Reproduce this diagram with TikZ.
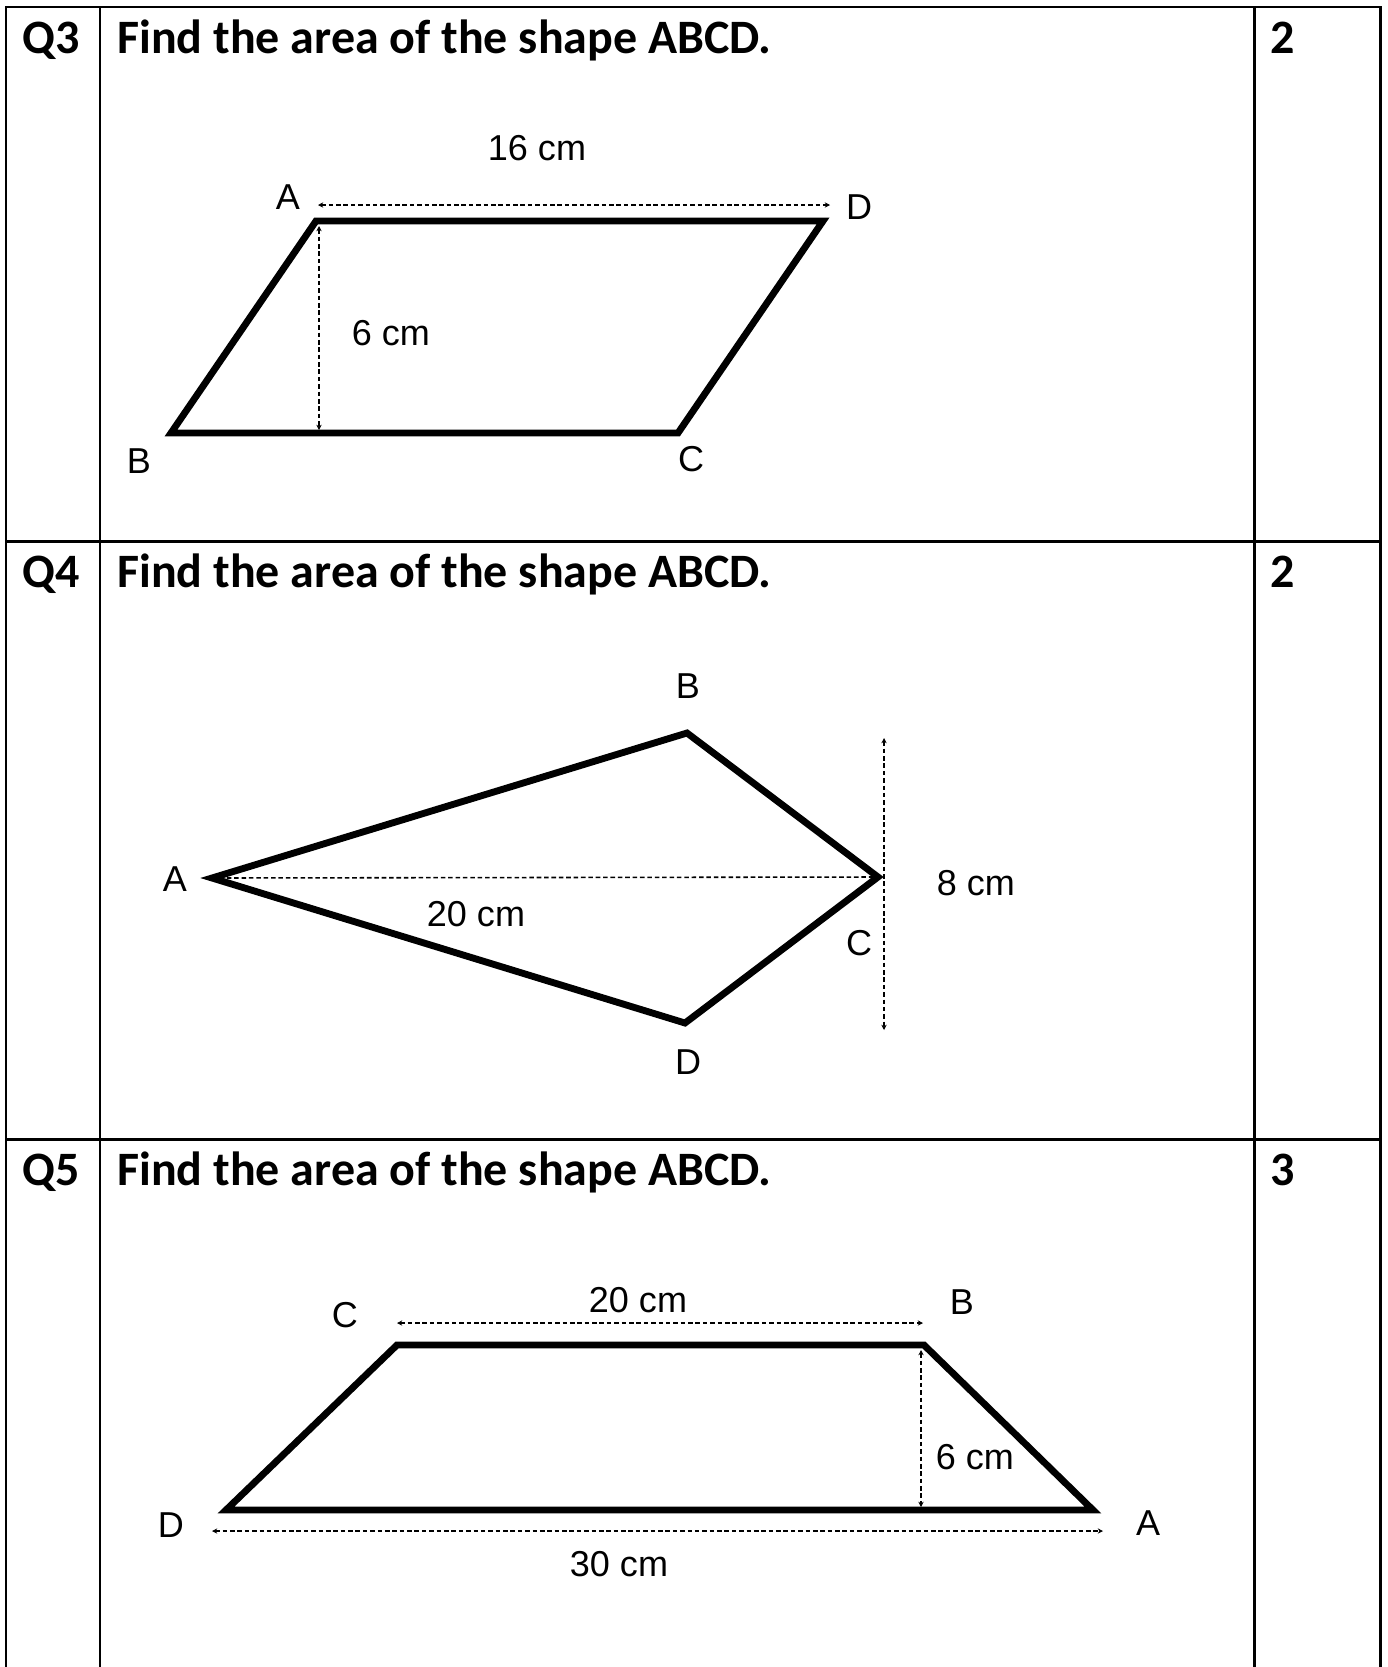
\documentclass[tikz,border=0pt]{standalone}
\usepackage{fontspec}
\setmainfont{Liberation Sans}
\newfontfamily\headfont{Carlito}
\usetikzlibrary{arrows.meta}

\begin{document}
\begin{tikzpicture}[x=0.02cm, y=-0.02cm,
    gridline/.style={line width=1.7pt, line cap=rect},
    outline/.style={line width=3.9pt, line join=miter},
    dimline/.style={line width=0.9pt, dash pattern=on 2.6pt off 1.6pt},
    dimarrow/.style={dimline, {Stealth[length=3pt,width=3pt]}-{Stealth[length=3pt,width=3pt]}},
    lbl/.style={font=\fontsize{20.5}{24}\selectfont, inner sep=0pt},
    head/.style={font=\headfont\bfseries\fontsize{27.3}{32}\selectfont,
                 anchor=base west, inner sep=0pt}]
  \useasboundingbox (0,0) rectangle (1387,1667);
  % Table rules
  \foreach \x in {6,100,1254,1380}
    \draw[gridline] (\x,7) -- (\x,1667);
  \foreach \y in {7,541,1139}
    \draw[gridline] (6,\y) -- (1380,\y);
  % Question headers
  \foreach \y/\q/\m in {53/3/2, 587/4/2, 1185/5/3}{
    \node[head] (q\q) at (22,\y) {Q\q};
    \node[head] (title\q) at (117,\y) {Find the area of the shape ABCD.};
    \node[head] (mark\q) at (1270,\y) {\m};
  }

  % Q3: parallelogram
  \coordinate (A3) at (316,221);
  \coordinate (D3) at (823,221);
  \coordinate (C3) at (678,433);
  \coordinate (B3) at (171,433);
  \draw[outline] (A3) -- (D3) -- (C3) -- (B3) -- cycle;
  \coordinate (A3top) at (318,205);
  \coordinate (D3top) at (830,205);
  \draw[dimarrow] (A3top) -- (D3top);
  \coordinate (A3h) at (319,226);
  \coordinate (B3h) at (319,430);
  \draw[dimarrow] (A3h) -- (B3h);
  \node[lbl] (labA3) at (288,197) {A};
  \node[lbl] (labD3) at (859,207) {D};
  \node[lbl] (labB3) at (139,461) {B};
  \node[lbl] (labC3) at (691,459) {C};
  \node[lbl] (len3) at (537,148) {16 cm};
  \node[lbl] (hgt3) at (391,333) {6 cm};

  % Q4: kite
  \coordinate (A4) at (212,878);
  \coordinate (B4) at (687,733);
  \coordinate (C4) at (878,877);
  \coordinate (D4) at (685,1023);
  \draw[outline] (A4) -- (B4) -- (C4) -- (D4) -- cycle;
  \draw[dimline] (A4) -- (C4);
  \coordinate (C4top) at (884,738);
  \coordinate (C4bot) at (884,1030);
  \draw[dimarrow] (C4top) -- (C4bot);
  \node[lbl] (labA4) at (175,879) {A};
  \node[lbl] (labB4) at (688,686) {B};
  \node[lbl] (labC4) at (859,943) {C};
  \node[lbl] (labD4) at (688,1062) {D};
  \node[lbl] (len4) at (476,914) {20 cm};
  \node[lbl] (wid4) at (976,883) {8 cm};

  % Q5: trapezium
  \coordinate (C5) at (397,1345);
  \coordinate (B5) at (924,1345);
  \coordinate (A5) at (1093,1510);
  \coordinate (D5) at (226,1510);
  \draw[outline] (C5) -- (B5) -- (A5) -- (D5) -- cycle;
  \coordinate (C5top) at (397,1323);
  \coordinate (B5top) at (923,1323);
  \draw[dimarrow] (C5top) -- (B5top);
  \coordinate (B5h) at (921,1350);
  \coordinate (E5h) at (921,1507);
  \draw[dimarrow] (B5h) -- (E5h);
  \coordinate (D5bot) at (212,1531);
  \coordinate (A5bot) at (1103,1531);
  \draw[dimarrow] (D5bot) -- (A5bot);
  \node[lbl] (labC5) at (345,1315) {C};
  \node[lbl] (labB5) at (962,1302) {B};
  \node[lbl] (labD5) at (171,1525) {D};
  \node[lbl] (labA5) at (1148,1523) {A};
  \node[lbl] (top5) at (638,1300) {20 cm};
  \node[lbl] (hgt5) at (975,1457) {6 cm};
  \node[lbl] (base5) at (619,1564) {30 cm};
\end{tikzpicture}
\end{document}
